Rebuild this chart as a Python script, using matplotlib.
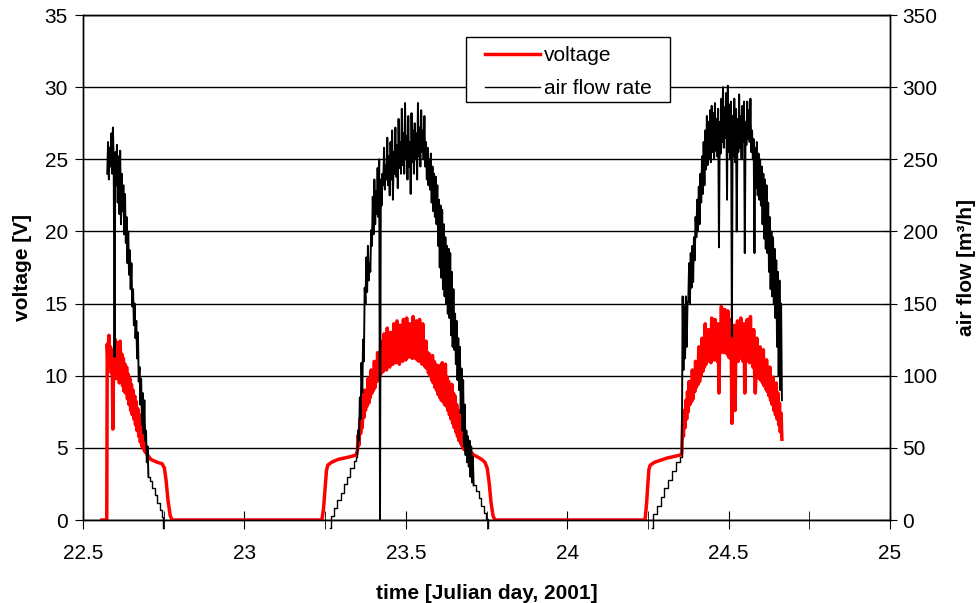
import numpy as np
import matplotlib
matplotlib.use('Agg')
from matplotlib import pyplot as plt
from matplotlib.lines import Line2D
from matplotlib.legend_handler import HandlerLine2D
from matplotlib.patches import Rectangle

plt.rcParams['font.family'] = ['Liberation Sans', 'DejaVu Sans']
plt.rcParams['font.size'] = 15

STEP = 0.0025  # sampling step of the noisy (daytime) parts, in days

# ---------------- voltage [V] ----------------
# logger switched on, day 22
v0_t = [22.558, 22.5735]
v0 = [0.0, 0.0]
# daytime, day 22, from 22.575
v1 = [12.2, 10.6, 12.8, 10.9, 12.0, 10.2, 11.6, 6.3,
      11.8, 10.0, 12.5, 9.8, 12.3, 10.4, 11.9, 9.5,
      12.4, 9.6, 11.5, 9.3, 11.2, 8.9, 10.8, 8.8,
      10.6, 8.4, 10.1, 8.0, 9.8, 7.6, 9.4, 7.3,
      9.0, 7.0, 8.6, 6.6, 8.2, 6.2, 7.7, 5.8,
      7.3, 5.4, 6.8, 5.1, 6.2, 4.9, 5.6, 4.7,
      5.0, 4.6]
# evening 22 / night / morning 23
v1_off_t = [22.700, 22.710, 22.730, 22.745, 22.752, 22.757, 22.763, 22.770, 22.776,
            23.240, 23.245, 23.250, 23.254, 23.258, 23.270, 23.290, 23.310, 23.330, 23.345]
v1_off = [4.5, 4.2, 4.0, 3.9, 3.6, 2.8, 1.4, 0.3, 0.0,
          0.0, 0.8, 2.2, 3.4, 3.8, 4.0, 4.2, 4.3, 4.4, 4.5]
# daytime, day 23, from 23.350
v2 = [4.8, 5.9, 5.2, 7.0, 6.0, 7.8, 6.4, 8.6,
      7.1, 9.0, 7.6, 8.4, 7.9, 9.8, 8.1, 9.4,
      8.5, 10.4, 8.8, 9.9, 9.0, 11.0, 9.2, 10.5,
      9.6, 11.6, 9.8, 10.9, 10.0, 12.4, 10.2, 11.3,
      10.3, 12.9, 10.5, 11.6, 10.4, 13.3, 10.7, 11.8,
      10.6, 13.0, 10.9, 12.0, 10.8, 13.6, 11.0, 12.1,
      10.9, 13.8, 11.1, 12.2, 10.8, 13.5, 11.2, 12.4,
      11.0, 13.9, 11.2, 12.3, 11.1, 14.0, 11.3, 12.5,
      11.3, 13.6, 11.5, 12.4, 11.2, 14.1, 11.4, 12.6,
      11.2, 13.8, 11.1, 12.3, 11.0, 13.9, 11.1, 12.2,
      10.8, 13.6, 10.9, 12.0, 10.6, 12.4, 10.5, 11.6,
      10.2, 11.5, 10.0, 11.3, 9.7, 11.4, 9.5, 11.0,
      9.2, 10.8, 9.0, 10.6, 8.7, 10.7, 8.5, 10.4,
      8.3, 10.9, 8.2, 10.3, 8.0, 10.8, 7.9, 9.9,
      7.6, 9.6, 7.3, 9.2, 7.0, 9.4, 6.7, 8.8,
      6.4, 8.6, 6.1, 8.0, 5.8, 7.6, 5.5, 7.2,
      5.3, 6.6, 5.1, 6.0, 4.9, 5.6, 4.8, 5.3,
      4.7, 5.0, 4.7, 4.9, 4.6, 4.7]
v2_off_t = [23.710, 23.720, 23.735, 23.745, 23.752, 23.758, 23.764, 23.770, 23.776,
            24.241, 24.246, 24.250, 24.253, 24.257, 24.270, 24.290, 24.310, 24.330, 24.350]
v2_off = [4.5, 4.4, 4.2, 4.0, 3.6, 2.6, 1.2, 0.3, 0.0,
          0.0, 1.2, 2.6, 3.5, 3.8, 4.0, 4.15, 4.3, 4.4, 4.5]
# daytime, day 24, from 24.355
v3 = [4.6, 6.9, 5.8, 7.6, 6.4, 8.3, 7.0, 8.9,
      7.5, 9.6, 8.0, 9.1, 8.2, 10.4, 8.4, 9.8,
      8.9, 11.0, 9.2, 10.4, 9.4, 12.0, 9.6, 11.0,
      10.0, 12.6, 10.3, 11.5, 10.6, 13.6, 10.8, 12.0,
      11.0, 13.2, 11.2, 12.4, 10.9, 14.0, 11.3, 12.5,
      11.1, 13.9, 11.4, 12.6, 11.0, 13.6, 8.8, 12.8,
      11.6, 14.8, 11.8, 12.9, 11.6, 14.6, 11.7, 13.0,
      11.5, 14.5, 11.3, 12.8, 11.2, 13.9, 6.7, 12.4,
      11.4, 13.5, 7.6, 12.6, 11.2, 13.8, 11.0, 12.5,
      11.3, 14.0, 11.2, 12.7, 11.0, 13.6, 8.8, 12.4,
      11.0, 13.9, 11.1, 12.6, 10.9, 14.1, 11.0, 12.2,
      10.6, 13.2, 10.5, 8.8, 10.4, 12.6, 10.0, 11.8,
      9.8, 12.0, 9.7, 11.4, 9.5, 11.8, 9.3, 11.0,
      9.1, 11.1, 8.9, 10.3, 8.6, 10.6, 8.3, 9.8,
      8.0, 9.9, 7.6, 9.2, 7.3, 9.5, 7.0, 8.8,
      6.6, 8.1, 6.1, 7.4, 5.6]

# ---------------- air flow [m3/h] ----------------
a1 = [240, 262, 236, 258, 245, 268, 240, 272,
      248, 113, 255, 232, 260, 220, 252, 212,
      256, 205, 240, 214, 232, 198, 226, 192,
      210, 178, 200, 170, 187, 160, 178, 148,
      160, 135, 150, 126, 138, 112, 130, 96,
      106, 80, 98, 66, 88, 60, 83, 55,
      62, 40, 51, 30]                                           # from 22.575
a1_stair_t = [22.7025, 22.707, 22.714, 22.722, 22.730, 22.738, 22.745, 22.749]
a1_stair = [30, 27, 22, 17, 12, 7, 2, -5.5]

a2_stair_t = [23.265, 23.268, 23.278, 23.288, 23.298, 23.308, 23.318, 23.328, 23.338, 23.346, 23.350]
a2_stair = [-5.5, 3, 8, 14, 19, 25, 30, 36, 41, 44, 46]
a2 = [46, 62, 55, 85, 70, 109, 88, 125,
      110, 161, 150, 182, 158, 190, 166, 178,
      172, 201, 190, 224, 198, 236, 205, 228,
      212, 244, 210, 250, 0, 236, 218, 240,
      232, 258, 229, 246, 236, 265, 232, 252,
      225, 262, 236, 270, 222, 255, 240, 272,
      238, 260, 230, 278, 244, 262, 240, 285,
      246, 268, 240, 289, 250, 266, 236, 280,
      245, 262, 226, 282, 248, 270, 240, 275,
      250, 268, 236, 289, 252, 272, 245, 284,
      255, 270, 250, 280, 245, 262, 236, 258,
      232, 250, 229, 254, 220, 245, 214, 240,
      210, 238, 205, 232, 190, 222, 175, 218,
      168, 215, 160, 205, 155, 196, 150, 190,
      143, 188, 140, 185, 128, 172, 120, 160,
      118, 143, 108, 138, 97, 126, 90, 120,
      74, 105, 62, 97, 51, 80, 45, 62,
      40, 58, 37, 55, 30, 51, 26, 44,
      24]                                                       # from 23.350
a2_stair_dn_t = [23.710, 23.718, 23.726, 23.734, 23.742, 23.749, 23.753]
a2_stair_dn = [24, 20, 15, 10, 5, 1, -5.5]

a3_stair_t = [24.262, 24.265, 24.277, 24.289, 24.301, 24.313, 24.325, 24.337, 24.349, 24.355]
a3_stair = [-5.5, 4, 10, 16, 22, 28, 34, 40, 44, 46]
a3 = [46, 155, 104, 148, 112, 155, 120, 150,
      152, 178, 150, 185, 161, 190, 165, 196,
      180, 210, 196, 222, 200, 231, 205, 240,
      220, 252, 226, 262, 232, 270, 243, 280,
      246, 276, 250, 284, 248, 287, 255, 282,
      250, 289, 256, 278, 252, 285, 189, 276,
      254, 292, 262, 300, 258, 286, 265, 296,
      222, 301, 255, 288, 250, 290, 127, 280,
      252, 292, 248, 285, 200, 278, 255, 295,
      258, 280, 250, 287, 262, 290, 185, 276,
      260, 290, 264, 284, 262, 292, 255, 270,
      250, 264, 185, 258, 230, 262, 225, 254,
      222, 250, 218, 245, 205, 240, 195, 236,
      188, 232, 185, 220, 172, 210, 160, 200,
      155, 196, 150, 188, 140, 180, 120, 172,
      100, 166, 90, 150, 83]                                    # from 24.355


def grid_t(start, vals):
    return start + STEP * np.arange(len(vals))


volt_t = np.concatenate([v0_t, grid_t(22.575, v1), v1_off_t, grid_t(23.350, v2),
                         v2_off_t, grid_t(24.355, v3)])
volt = np.concatenate([v0, v1, v1_off, v2, v2_off, v3])

fig = plt.figure(figsize=(9.77, 6.03), dpi=100)
ax = fig.add_axes([0.085, 0.1376, 0.826, 0.8375])
ax2 = ax.twinx()

ax.yaxis.grid(True, color='black', linewidth=1.0)
ax.set_axisbelow(True)

ax.plot(volt_t, volt, color='#ff0000', linewidth=2.5)

blk = dict(color='black', linewidth=1.4)
thin = dict(color='black', linewidth=1.0, drawstyle='steps-post', clip_on=False)
ax2.plot(grid_t(22.575, a1), a1, **blk)
ax2.plot(a1_stair_t, a1_stair, **thin)
ax2.plot(a2_stair_t, a2_stair, **thin)
ax2.plot(grid_t(23.350, a2), a2, **blk)
ax2.plot(a2_stair_dn_t, a2_stair_dn, **thin)
ax2.plot(a3_stair_t, a3_stair, **thin)
ax2.plot(grid_t(24.355, a3), a3, **blk)

ax.set_xlim(22.5, 25)
ax.set_ylim(0, 35)
ax2.set_ylim(0, 350)
ax.set_xticks([22.5, 23, 23.5, 24, 24.5, 25])
ax.set_xticklabels(['22.5', '23', '23.5', '24', '24.5', '25'])
ax.set_xticks([22.75, 23.25, 23.75, 24.25, 24.75], minor=True)
ax.set_yticks(range(0, 36, 5))
ax2.set_yticks(range(0, 351, 50))

ax.tick_params(axis='x', which='both', direction='inout', length=13, pad=11, labelsize=15)
ax.tick_params(axis='y', direction='out', length=6, pad=5, labelsize=15)
ax2.tick_params(axis='y', direction='inout', length=10, pad=4, labelsize=15)

for a in (ax, ax2):
    for s in a.spines.values():
        s.set_linewidth(1.0)
        s.set_color('black')

ax.set_xlabel('time [Julian day, 2001]', fontweight='bold', fontsize=15, labelpad=15)
ax.set_ylabel('voltage [V]', fontweight='bold', fontsize=15, labelpad=9)
ax2.set_ylabel('air flow [m³/h]', fontweight='bold', fontsize=15, labelpad=14,
               rotation=90)

# legend box
box = Rectangle((0.4746, 0.8277), 0.2528, 0.1287, transform=ax2.transAxes,
                facecolor='white', edgecolor='black', linewidth=1.0, zorder=4)
ax2.add_patch(box)
h_volt = Line2D([], [], color='#ff0000', linewidth=2.5)
h_air = Line2D([], [], color='black', linewidth=1.0)
leg = ax2.legend([h_volt, h_air], ['voltage', 'air flow rate'], loc='upper left',
                 bbox_to_anchor=(0.4746, 0.9564), borderaxespad=0, fontsize=15,
                 frameon=False, handlelength=3.1, handletextpad=0.22,
                 labelspacing=0.67, borderpad=0.44,
                 handler_map={Line2D: HandlerLine2D(xpad=0.45)})
leg.set_zorder(5)

plt.savefig('out.png', dpi=100)
